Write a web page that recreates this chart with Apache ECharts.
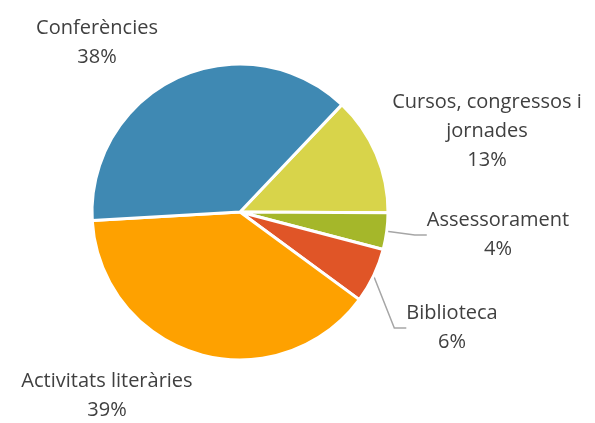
<!DOCTYPE html>
<html><head><meta charset="utf-8">
<script src="https://cdn.jsdelivr.net/npm/echarts@6/dist/echarts.min.js"></script>
<style>html,body{margin:0;padding:0;background:#fff}#c{width:595px;height:423px}</style>
</head><body><div id="c"></div>
<script>
const categories = ['Cursos, congressos i\njornades', 'Assessorament', 'Biblioteca', 'Activitats literàries', 'Conferències'];
const values = [13, 4, 6, 39, 38];
const colors = ['#D8D44A', '#A5B72A', '#E05527', '#FEA100', '#3F89B3'];
const showLine = [false, true, true, false, false];
const labelPos = [[487, 131], [498, 235], [452, 328], [107, 396], [97, 43]];

const chart = echarts.init(document.getElementById('c'), null, {renderer: 'canvas'});
chart.setOption({
  animation: false,
  series: [{
    type: 'pie',
    left: -300, right: -300, top: 0, bottom: 0,
    center: [540, 212],
    radius: 148,
    startAngle: 46.5,
    clockwise: true,
    avoidLabelOverlap: false,
    data: categories.map((n, i) => ({
      name: n, value: values[i],
      itemStyle: {color: colors[i]},
      labelLine: {show: showLine[i]}
    })),
    itemStyle: {borderColor: '#fff', borderWidth: 3},
    label: {
      show: true, position: 'outside',
      formatter: '{b}\n{d}%',
      fontFamily: 'Open Sans', fontSize: 20, color: '#404040',
      lineHeight: 29, align: 'center', overflow: 'none', edgeDistance: 0
    },
    labelLine: {show: true, lineStyle: {color: '#A6A6A6', width: 1.5}, length: 12, length2: 12},
    labelLayout: function (p) {
      const q = labelPos[p.dataIndex];
      return {x: q[0], y: q[1], align: 'center', verticalAlign: 'middle'};
    }
  }]
});
</script></body></html>
